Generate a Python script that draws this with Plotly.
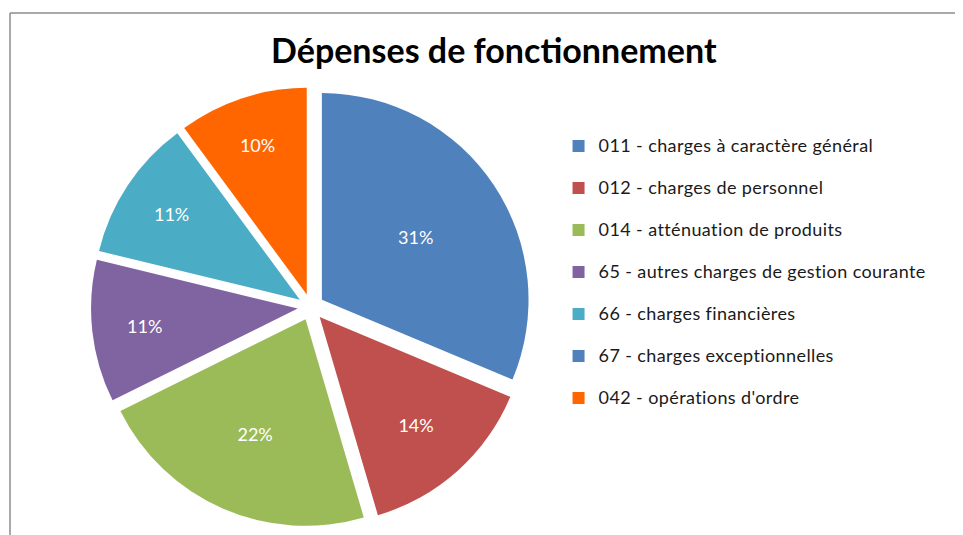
import plotly.graph_objects as go

title = "Dépenses de fonctionnement"
labels = [
    "011 - charges à caractère général",
    "012 - charges de personnel",
    "014 - atténuation de produits",
    "65 - autres charges de gestion courante",
    "66 - charges financières",
    "67 - charges exceptionnelles",
    "042 - opérations d'ordre",
]
values = [31, 14, 22, 11, 11, 0, 10]
colors = ["#4F81BD", "#C0504D", "#9BBB59", "#8064A2", "#4BACC6", "#4F81BD", "#FF6600"]

FONT = "Lato"
slice_text = [f"{v}%" if v > 0 else "" for v in values]
legend_names = [
    f'<span style="font-size:18px;letter-spacing:0.4px;baseline-shift:6px">{l}</span>'
    for l in labels
]

fig = go.Figure(go.Pie(
    labels=legend_names,
    values=values,
    text=slice_text,
    textinfo="text",
    textposition="inside",
    insidetextorientation="horizontal",
    textfont=dict(family=FONT, size=18, color="white"),
    marker=dict(colors=colors, line=dict(width=0)),
    sort=False,
    direction="clockwise",
    rotation=0,
    pull=0.064,
    hole=0,
    domain=dict(x=[0.084, 0.545], y=[0.03, 0.852]),
    showlegend=True,
))

fig.update_layout(
    width=963, height=535,
    margin=dict(l=0, r=0, t=0, b=0),
    paper_bgcolor="white",
    plot_bgcolor="white",
    font=dict(family=FONT),
    title=dict(text=f"<b>{title}</b>", x=0.5045, xanchor="center", y=0.92, yanchor="middle",
               font=dict(family=FONT, size=34, color="black")),
    legend=dict(x=0.5717, xanchor="left", y=0.7906, yanchor="top",
                font=dict(family=FONT, size=30, color="#1a1a1a"),
                bgcolor="rgba(0,0,0,0)"),
    shapes=[
        dict(type="line", xref="paper", yref="paper", x0=2/963, x1=1.0, y0=1-5/535, y1=1-5/535,
             line=dict(color="#8c8c8c", width=1.5)),
        dict(type="line", xref="paper", yref="paper", x0=2/963, x1=2/963, y0=0, y1=1-5/535,
             line=dict(color="#8c8c8c", width=1.5)),
    ],
)

fig.write_html("out.html")
